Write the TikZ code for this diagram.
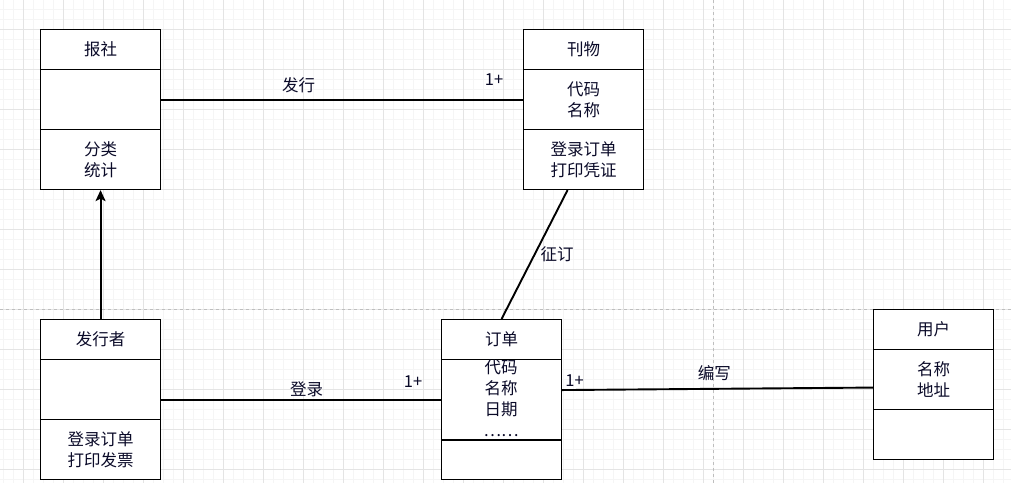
\documentclass[tikz,border=0pt]{standalone}
\usepackage{fontspec}
\setmainfont{Noto Sans CJK SC}
\usetikzlibrary{arrows.meta,calc}
\definecolor{gridminor}{RGB}{245,245,245}
\definecolor{gridmajor}{RGB}{228,228,228}
\definecolor{pagebreak}{RGB}{190,190,190}
\definecolor{txt}{RGB}{10,10,40}
\begin{document}
\begin{tikzpicture}[x=1pt,y=-1pt,
  every node/.style={font=\fontsize{16.5}{21}\selectfont, text=txt},
  comp/.style={draw, line width=1.1pt, minimum width=120pt, inner sep=0pt, anchor=north west, align=center},
  conn/.style={line width=1.9pt},
  lbl/.style={inner sep=1pt}
]
\useasboundingbox (0,0) rectangle (1011,483);
\fill[white] (0,0) rectangle (1011,483);
% grid
\foreach \x in {3,13,...,1003} \draw[gridminor, line width=0.8pt] (\x,0) -- (\x,483);
\foreach \y in {9,19,...,479} \draw[gridminor, line width=0.8pt] (0,\y) -- (1011,\y);
\foreach \x in {23,63,...,1003} \draw[gridmajor, line width=0.8pt] (\x,0) -- (\x,483);
\foreach \y in {29,69,...,469} \draw[gridmajor, line width=0.8pt] (0,\y) -- (1011,\y);
\draw[pagebreak, dashed, line width=0.8pt] (713,0) -- (713,483);
\draw[pagebreak, dashed, line width=0.8pt] (0,309) -- (1011,309);

% 报社
\node[comp, fill=white, minimum height=40pt] (bs-t) at (40,29) {报社};
\node[comp, fill=white, minimum height=60pt] (bs-a) at (40,69) {};
\node[comp, fill=white, minimum height=60pt] (bs-o) at (40,129) {分类\\统计};
% 刊物
\node[comp, fill=white, minimum height=40pt] (kw-t) at (523,29) {刊物};
\node[comp, fill=white, minimum height=60pt] (kw-a) at (523,69) {代码\\名称};
\node[comp, fill=white, minimum height=60pt] (kw-o) at (523,129) {登录订单\\打印凭证};
% 发行者
\node[comp, fill=white, minimum height=40pt] (fx-t) at (40,319) {发行者};
\node[comp, fill=white, minimum height=60pt] (fx-a) at (40,359) {};
\node[comp, fill=white, minimum height=60pt] (fx-o) at (40,419) {登录订单\\打印发票};
% 订单
\node[comp, fill=white, minimum height=40pt] (dd-t) at (441,319) {订单};
\node[comp, fill=white, minimum height=81pt] (dd-a) at (441,359) {};
\node[align=center] (dd-text) at (501,398) {代码\\名称\\日期\\……};
\node[comp, fill=white, minimum height=39pt] (dd-o) at (441,440) {};
\draw[line width=2pt] (dd-o.north west) -- (dd-o.north east);
% 用户
\node[comp, fill=white, minimum height=40pt] (yh-t) at (873,309) {用户};
\node[comp, fill=white, minimum height=60pt] (yh-a) at (873,349) {名称\\地址};
\node[comp, fill=white, minimum height=50pt] (yh-o) at (873,409) {};

% connectors
\draw[conn] (bs-a.east) -- (kw-a.west)
  node[lbl, pos=0.38, above=5pt] (l-fx) {发行}
  node[lbl, pos=0.92, above=12pt] (l-fx1) {1+};
\draw[conn] ($(kw-o.south)+(-16,0)$) -- (dd-t.north)
  node[lbl, pos=0.5, right=4pt] (l-zd) {征订};
\draw[conn, -{Stealth[length=11pt,width=10pt,inset=2.5pt]}] (fx-t.north) -- (bs-o.south);
\draw[conn] (fx-a.east |- dd-a.west) -- (dd-a.west)
  node[lbl, pos=0.52, above=1pt] (l-dl) {登录}
  node[lbl, pos=0.9, above=11pt] (l-dl1) {1+};
\draw[conn] ($(dd-a.east)+(0,-10)$) -- ($(yh-a.west)+(0,8)$)
  node[lbl, pos=0.04, above=2pt] (l-bx1) {1+}
  node[lbl, pos=0.49, above=6pt] (l-bx) {编写};
\end{tikzpicture}
\end{document}
